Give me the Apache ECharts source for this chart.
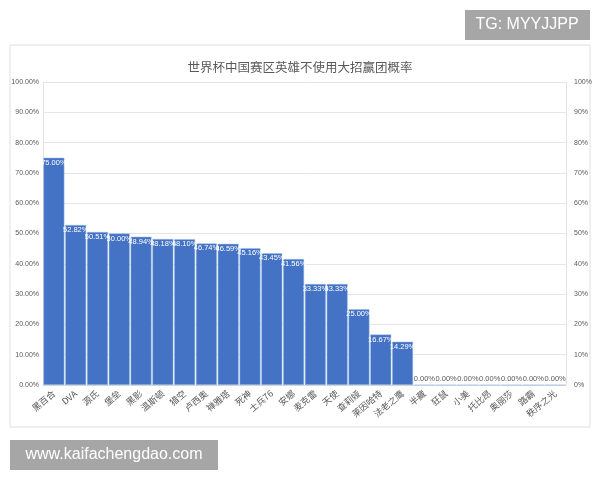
<!DOCTYPE html>
<html>
<head>
<meta charset="utf-8">
<script src="https://cdn.jsdelivr.net/npm/echarts@6/dist/echarts.min.js"></script>
<style>
  html, body { margin: 0; padding: 0; background: #fff; }
  #chart { width: 600px; height: 480px; }
</style>
</head>
<body>
<div id="chart"></div>
<script>
const heroes = ['黑百合', 'DVA', '源氏', '堡垒', '黑影', '温斯顿', '猎空', '卢西奥', '禅雅塔', '死神', '士兵76', '安娜',
  '麦克雷', '天使', '查莉娅', '莱因哈特', '法老之鹰', '半藏', '狂鼠', '小美', '托比昂', '奥丽莎', '路霸', '秩序之光']
const winRates = [75.00, 52.82, 50.51, 50.00, 48.94, 48.18, 48.10, 46.74, 46.59, 45.16, 43.45, 41.56,
  33.33, 33.33, 25.00, 16.67, 14.29, 0, 0, 0, 0, 0, 0, 0]

const font = '"Noto Sans CJK SC", "Microsoft YaHei", sans-serif'
const gray = '#595959'

// 0 的柱子没有高度，标签放到轴上方，灰色
const barData = winRates.map(v => {
  if (v === 0) {
    return { value: v, label: { position: 'top', color: gray, distance: 2 } }
  }
  return v
})

let myChart = echarts.init(document.getElementById('chart'))
myChart.setOption({
  animation: false,
  title: {
    text: '世界杯中国赛区英雄不使用大招赢团概率',
    left: 'center',
    top: 56,
    textStyle: { fontFamily: font, fontSize: 12.5, fontWeight: 'normal', color: gray }
  },
  grid: { left: 43, right: 34, top: 82, bottom: 95 },
  xAxis: {
    type: 'category',
    data: heroes,
    axisTick: { show: false },
    axisLine: { lineStyle: { color: '#d9d9d9' } },
    axisLabel: { interval: 0, rotate: 40, fontSize: 9, color: gray, fontFamily: font, margin: 7 }
  },
  yAxis: [
    {
      type: 'value', min: 0, max: 100, interval: 10,
      axisLine: { show: true, lineStyle: { color: '#e3e3e3' } },
      splitLine: { lineStyle: { color: '#e6e6e6' } },
      axisLabel: { fontSize: 7, color: gray, formatter: v => v.toFixed(2) + '%', margin: 4 }
    },
    {
      type: 'value', min: 0, max: 100, interval: 10, position: 'right',
      axisLine: { show: true, lineStyle: { color: '#e3e3e3' } },
      splitLine: { show: false },
      axisLabel: { fontSize: 7, color: gray, formatter: v => v + '%', margin: 8 }
    }
  ],
  series: [{
    type: 'bar',
    data: barData,
    barCategoryGap: '4%',
    itemStyle: { color: '#4472c4', borderColor: '#9dc3e6', borderWidth: 0.5 },
    label: {
      show: true,
      position: 'insideTop',
      distance: 1,
      color: '#ffffff',
      fontSize: 7.5,
      fontFamily: '"Liberation Sans", Arial, sans-serif',
      formatter: p => p.value.toFixed(2) + '%'
    }
  }],
  graphic: [
    { type: 'rect', shape: { x: 10, y: 45, width: 580, height: 382 }, style: { fill: 'none', stroke: '#e0e0e0', lineWidth: 1 }, z: -1 },
    { type: 'rect', shape: { x: 465, y: 10, width: 125, height: 30 }, style: { fill: '#a6a6a6' } },
    { type: 'text', x: 527, y: 25, style: { text: 'TG: MYYJJPP', fill: '#fff', fontSize: 16, fontFamily: 'Arial, sans-serif', align: 'center', verticalAlign: 'middle' } },
    { type: 'rect', shape: { x: 10, y: 440, width: 208, height: 30 }, style: { fill: '#a6a6a6' } },
    { type: 'text', x: 114, y: 455, style: { text: 'www.kaifachengdao.com', fill: '#fff', fontSize: 16, fontFamily: 'Arial, sans-serif', align: 'center', verticalAlign: 'middle' } }
  ]
})
</script>
</body>
</html>
